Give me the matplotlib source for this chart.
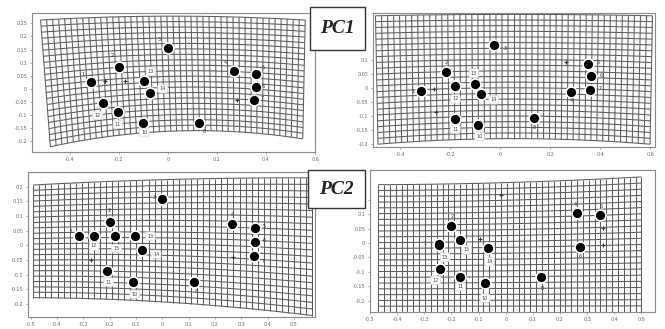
import numpy as np
import matplotlib
matplotlib.use("Agg")
import matplotlib.pyplot as plt
from matplotlib.collections import LineCollection
from matplotlib.patches import Rectangle

# landmark configurations
# panel 1: PC1 negative
p1_lab = ["1", "2", "3", "4", "5", "6", "7", "8", "10", "11", "12", "13", "14"]
p1_x = [-0.314, -0.200, 0.000, 0.269, 0.359, 0.359, 0.351, 0.127, -0.102, -0.204, -0.265, -0.098, -0.073]
p1_y = [0.027, 0.084, 0.156, 0.068, 0.057, 0.008, -0.042, -0.129, -0.129, -0.087, -0.053, 0.030, -0.015]
p1_sx = [-0.257, -0.176, 0.280]
p1_sy = [0.030, 0.030, -0.042]

# panel 2: PC1 positive
p2_lab = ["1", "2", "3", "4", "5", "6", "7", "8", "10", "11", "12", "13", "14"]
p2_x = [-0.316, -0.216, -0.024, 0.284, 0.352, 0.364, 0.360, 0.136, -0.088, -0.180, -0.180, -0.100, -0.076]
p2_y = [-0.011, 0.057, 0.154, -0.014, 0.089, 0.046, -0.007, -0.107, -0.132, -0.111, 0.007, 0.014, -0.021]
p2_sx = [-0.264, -0.256, 0.264]
p2_sy = [-0.004, -0.086, 0.096]

# panel 3: PC2 negative
p3_lab = ["1", "2", "3", "4", "5", "6", "7", "8", "10", "11", "12", "13", "14", "15"]
p3_x = [-0.316, -0.198, 0.000, 0.266, 0.354, 0.354, 0.350, 0.122, -0.110, -0.209, -0.259, -0.103, -0.076, -0.179]
p3_y = [0.031, 0.081, 0.159, 0.071, 0.058, 0.010, -0.037, -0.125, -0.125, -0.088, 0.031, 0.031, -0.017, 0.031]
p3_sx = [-0.270, 0.270]
p3_sy = [-0.051, -0.041]

# panel 4: PC2 positive
p4_lab = ["1", "2", "4", "5", "6", "8", "10", "11", "12", "13", "14", "15"]
p4_x = [-0.246, -0.203, 0.261, 0.348, 0.275, 0.130, -0.076, -0.167, -0.243, -0.244, -0.065, -0.170]
p4_y = [-0.003, 0.059, 0.105, 0.098, -0.014, -0.118, -0.139, -0.118, -0.091, -0.006, -0.017, 0.010]
p4_sx = [-0.018, 0.359, 0.359, -0.094]
p4_sy = [0.167, 0.052, -0.007, 0.014]

# label offsets in points (style only)
p1_off = [(-6, 5), (-5, 8), (-6, 6), (-6, 6), (5, 5), (5, 0), (6, 1), (4, -6), (1, -7), (0, -9), (-4, -9), (5, 7), (9, 3)]
p2_off = [(-6, 0), (0, 7), (8, -2), (0, -6), (7, 1), (7, 0), (7, 1), (0, -7), (1, -8), (0, -7), (0, -9), (-1, 8), (9, -4)]
p3_off = [(-6, 3), (-1, 8), (-6, 1), (0, 7), (6, 1), (6, 1), (6, -4), (1, -7), (1, -9), (1, -8), (0, -7), (11, 0), (10, -3), (1, -9)]
p4_off = [(-10, 0), (1, 7), (-1, 6), (1, 6), (0, -7), (1, -8), (0, -11), (0, -7), (-3, -8), (4, -9), (1, -10), (5, -7)]

p1_xt = [-0.4, -0.2, 0, 0.2, 0.4, 0.6]
p1_yt = [-0.2, -0.15, -0.1, -0.05, 0, 0.05, 0.1, 0.15, 0.2, 0.25]
p2_xt = [-0.4, -0.2, 0, 0.2, 0.4, 0.6]
p2_yt = [-0.2, -0.15, -0.1, -0.05, 0, 0.05, 0.1]
p3_xt = [-0.5, -0.4, -0.3, -0.2, -0.1, 0, 0.1, 0.2, 0.3, 0.4, 0.5]
p3_yt = [-0.2, -0.15, -0.1, -0.05, 0, 0.05, 0.1, 0.15, 0.2]
p4_xt = [-0.5, -0.4, -0.3, -0.2, -0.1, 0, 0.1, 0.2, 0.3, 0.4, 0.5]
p4_yt = [-0.2, -0.15, -0.1, -0.05, 0, 0.05, 0.1, 0.15]


def warp_grid(ax, xl, xr, yb, yt, bend_b, bend_t, peak, nx, ny):
    # bent rectangle standing in for the thin plate spline grid
    def pos(u, v):
        left = xl[0] + (xl[1] - xl[0]) * v
        right = xr[0] + (xr[1] - xr[0]) * v
        x = left + (right - left) * u
        hump = 1 - ((u - peak) / max(peak, 1 - peak)) ** 2
        bot = yb[0] + (yb[1] - yb[0]) * u + bend_b * hump
        top = yt[0] + (yt[1] - yt[0]) * u + bend_t * hump
        return x, bot + (top - bot) * v
    t = np.linspace(0, 1, 120)
    segs = []
    for u in np.linspace(0, 1, nx + 1):
        x, y = pos(np.full_like(t, u), t)
        segs.append(np.column_stack([x, y]))
    for v in np.linspace(0, 1, ny + 1):
        x, y = pos(t, np.full_like(t, v))
        segs.append(np.column_stack([x, y]))
    ax.add_collection(LineCollection(segs, colors="#5c5c5c", linewidths=0.75, zorder=1))


def landmarks(ax, xs, ys, labs, offs, sx, sy):
    ax.plot(sx, sy, "+", color="#333333", ms=3, mew=0.8, zorder=3)
    ax.plot(xs, ys, "o", color="white", ms=8, zorder=3)
    ax.plot(xs, ys, "o", color="black", ms=5.6, zorder=4)
    for x, y, lab, o in zip(xs, ys, labs, offs):
        if int(lab) >= 10:
            ax.annotate(lab, (x, y), xytext=o, textcoords="offset points", fontsize=3.5,
                        ha="center", va="center", color="#444444", zorder=5,
                        bbox=dict(boxstyle="round,pad=0.35", fc="white", ec="#dddddd", lw=0.6))
        else:
            ax.annotate(lab, (x, y), xytext=o, textcoords="offset points", fontsize=3.5,
                        ha="center", va="center", color="#333333", zorder=5)


def frame(ax, xlim, ylim, xt, yt):
    ax.set_xlim(*xlim)
    ax.set_ylim(*ylim)
    ax.set_xticks(xt)
    ax.set_yticks(yt)
    ax.set_xticklabels(["%g" % v for v in xt])
    ax.set_yticklabels(["%g" % v for v in yt])
    ax.tick_params(labelsize=3.5, colors="#666666", length=1.5, width=0.4, pad=2)
    for s in ax.spines.values():
        s.set_color("#8a8a8a")
        s.set_linewidth(0.8)


W, H = 665, 329
fig = plt.figure(figsize=(W / 100, H / 100), dpi=100)


def box(l, t, r, b):
    return [l / W, 1 - b / H, (r - l) / W, (b - t) / H]


ax1 = fig.add_axes(box(32, 13, 315, 152))
frame(ax1, (-0.555, 0.6), (-0.24, 0.289), p1_xt, p1_yt)
warp_grid(ax1, (-0.48, -0.52), (0.55, 0.56), (-0.22, -0.19), (0.262, 0.262), 0.045, 0.015, 0.5, 44, 21)
landmarks(ax1, p1_x, p1_y, p1_lab, p1_off, p1_sx, p1_sy)

ax2 = fig.add_axes(box(373, 13, 655, 147))
frame(ax2, (-0.51, 0.62), (-0.21, 0.27), p2_xt, p2_yt)
warp_grid(ax2, (-0.49, -0.5), (0.6, 0.61), (-0.2, -0.2), (0.26, 0.26), 0.02, 0.005, 0.5, 46, 22)
landmarks(ax2, p2_x, p2_y, p2_lab, p2_off, p2_sx, p2_sy)

ax3 = fig.add_axes(box(28, 172, 315, 317))
frame(ax3, (-0.51, 0.58), (-0.245, 0.25), p3_xt, p3_yt)
warp_grid(ax3, (-0.49, -0.49), (0.57, 0.57), (-0.19, -0.24), (0.2, 0.23), 0.02, 0.01, 0.4, 46, 21)
landmarks(ax3, p3_x, p3_y, p3_lab, p3_off, p3_sx, p3_sy)

ax4 = fig.add_axes(box(370, 170, 655, 312))
frame(ax4, (-0.482, 0.55), (-0.24, 0.254), p4_xt, p4_yt)
warp_grid(ax4, (-0.47, -0.47), (0.5, 0.5), (-0.24, -0.24), (0.21, 0.23), 0.0, -0.01, 0.35, 45, 22)
landmarks(ax4, p4_x, p4_y, p4_lab, p4_off, p4_sx, p4_sy)

# PC captions in framed boxes
for (l, t, r, b), txt in [((310, 7, 365, 50), "PC1"), ((308, 170, 365, 208), "PC2")]:
    fig.patches.append(Rectangle((l / W, 1 - b / H), (r - l) / W, (b - t) / H, transform=fig.transFigure,
                                 fc="white", ec="#333333", lw=1.0, zorder=10))
    fig.text((l + r) / 2 / W, 1 - (t + b) / 2 / H, txt, ha="center", va="center", fontsize=14,
             family="Liberation Serif", weight="bold", style="italic", color="#222222", zorder=11)

fig.savefig("out.png", dpi=100)
